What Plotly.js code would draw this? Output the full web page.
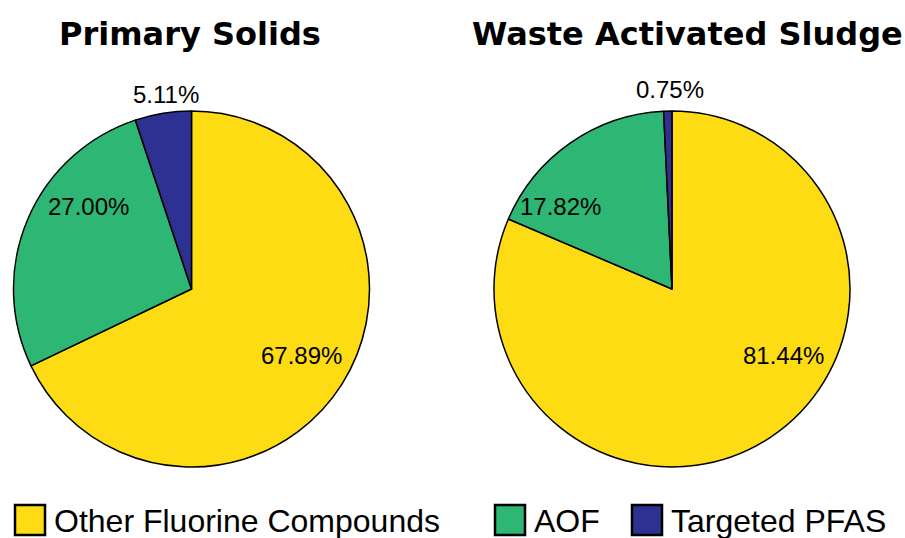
<!DOCTYPE html>
<html>
<head>
<meta charset="utf-8">
<script src="https://cdn.plot.ly/plotly-3.0.1.min.js"></script>
<style>
  html, body { margin: 0; padding: 0; background: #fff; }
  #chart { width: 905px; height: 538px; }
</style>
</head>
<body>
<div id="chart"></div>
<script>
// Fluorine mass balance (%) in two sludge streams
const categories = ['Other Fluorine Compounds', 'AOF', 'Targeted PFAS'];
const primarySolids = [67.89, 27.00, 5.11];
const wasteActivatedSludge = [81.44, 17.82, 0.75];
const panelTitles = ['Primary Solids', 'Waste Activated Sludge'];
const sliceColors = ['#FDDC14', '#2DB674', '#2E3192'];

const W = 905, H = 538;
const px = v => v / W;           // pixel -> paper x
const py = v => 1 - v / H;       // pixel -> paper y

// Pie frames in pixels: [left, right, top, bottom]
const pieFrames = [[13, 370, 111, 467], [494, 850, 111, 467]];
// Where each percentage label sits (pixel centre), per pie, per slice
const labelSpots = [
  [[301.5, 355], [88.5, 206.5], [166, 95]],
  [[783, 355], [560, 207], [670, 89]]
];

const labelFont = { family: 'Liberation Sans, Arial, sans-serif', size: 24, color: '#000' };

function pieTrace(values, frame) {
  const [x0, x1, y0, y1] = frame;
  return {
    type: 'pie',
    labels: categories,
    values: values,
    sort: false,
    direction: 'clockwise',
    rotation: 0,
    marker: { colors: sliceColors, line: { color: '#000', width: 1.5 } },
    textinfo: 'none',
    hoverinfo: 'label+value',
    showlegend: false,
    domain: { x: [px(x0), px(x1)], y: [py(y1), py(y0)] }
  };
}

const series = [primarySolids, wasteActivatedSludge];
const data = series.map((vals, i) => pieTrace(vals, pieFrames[i]));

const annotations = [];

// Percentage labels, formatted from the same values that size the slices
series.forEach((vals, p) => {
  vals.forEach((v, s) => {
    const [lx, ly] = labelSpots[p][s];
    annotations.push({
      text: v.toFixed(2) + '%', x: px(lx), y: py(ly), xref: 'paper', yref: 'paper',
      xanchor: 'center', yanchor: 'middle', showarrow: false, font: labelFont
    });
  });
});

// Panel titles
const titleFont = { family: 'DejaVu Sans, sans-serif', size: 32, color: '#000', weight: 'bold' };
const titleX = [189.5, 687.5];
panelTitles.forEach((t, i) => {
  annotations.push({
    text: '<b>' + t + '</b>', x: px(titleX[i]), y: py(34), xref: 'paper', yref: 'paper',
    xanchor: 'center', yanchor: 'middle', showarrow: false, font: titleFont
  });
});

// Legend drawn as boxed swatches with labels along the bottom
const legendBoxLeft = [15, 495, 632];
const legendBox = 30;
const shapes = [];
categories.forEach((name, i) => {
  const x0 = legendBoxLeft[i];
  shapes.push({
    type: 'rect', xref: 'paper', yref: 'paper',
    x0: px(x0), x1: px(x0 + legendBox), y0: py(535), y1: py(505),
    fillcolor: sliceColors[i], line: { color: '#000', width: 2.5 }
  });
  annotations.push({
    text: name, x: px(x0 + legendBox + 7), y: py(521), xref: 'paper', yref: 'paper',
    xanchor: 'left', yanchor: 'middle', showarrow: false,
    font: { family: 'Liberation Sans, Arial, sans-serif', size: 32, color: '#000' }
  });
});

const layout = {
  width: W, height: H,
  margin: { l: 0, r: 0, t: 0, b: 0 },
  paper_bgcolor: '#fff',
  plot_bgcolor: '#fff',
  showlegend: false,
  annotations: annotations,
  shapes: shapes
};

Plotly.newPlot('chart', data, layout, { displayModeBar: false, staticPlot: true });
</script>
</body>
</html>
